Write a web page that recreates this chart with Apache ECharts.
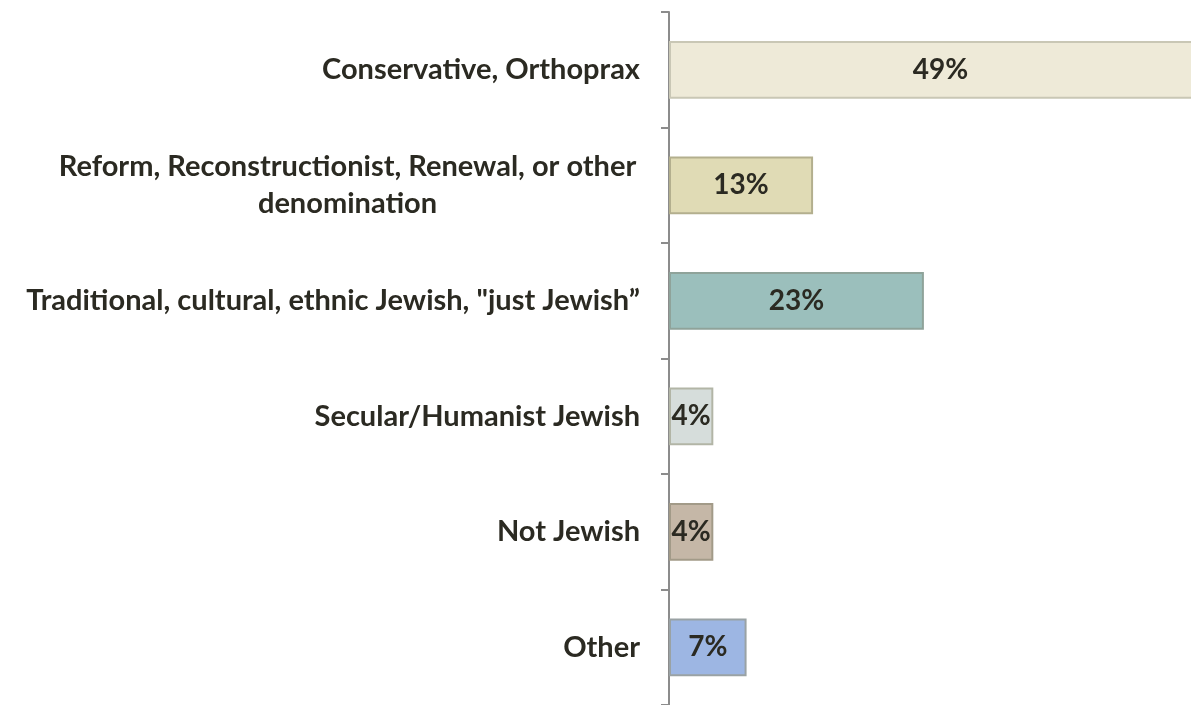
<!DOCTYPE html>
<html>
<head>
<meta charset="utf-8">
<script src="https://cdn.jsdelivr.net/npm/echarts@6/dist/echarts.min.js"></script>
<style>
    html, body { margin: 0; padding: 0; background: #fff; }
    #chart { width: 1191px; height: 705px; }
</style>
</head>
<body>
<div id="chart"></div>
<script>
// categories, top to bottom
var categories = [
    'Conservative, Orthoprax',
    'Reform, Reconstructionist, Renewal, or other\ndenomination',
    'Traditional, cultural, ethnic Jewish, "just Jewish\u201d',
    'Secular/Humanist Jewish',
    'Not Jewish',
    'Other'
];
var values = [49, 13, 23, 4, 4, 7];
var fills = ['#eeead8', '#e0dbb5', '#9bbfbc', '#d6dddb', '#c5b7a7', '#9db6e3'];
var borders = ['#c9c7b5', '#b3af8e', '#8fa39a', '#b2b5a6', '#a29a88', '#9aa2a4'];

var myChart = echarts.init(document.getElementById('chart'));
var font = 'Lato, "Open Sans", sans-serif';

myChart.setOption({
    animation: false,
    grid: {
        left: 669,
        top: 12,
        right: 0,
        bottom: 0,
        containLabel: false
    },
    xAxis: {
        type: 'value',
        min: 0,
        max: 47.1,   // 49% bar runs past the right edge, as in the original
        show: false
    },
    yAxis: {
        type: 'category',
        inverse: true,
        data: categories,
        axisLine: {
            lineStyle: {
                color: '#8c8c8c',
                width: 2
            }
        },
        axisTick: {
            show: true,
            length: 8,
            lineStyle: {
                color: '#8c8c8c',
                width: 2
            }
        },
        axisLabel: {
            margin: 29,
            color: '#2b2a22',
            fontFamily: font,
            fontWeight: 'bold',
            fontSize: 29,
            lineHeight: 37,
            formatter: function (v) {
                if (v.indexOf('\n') >= 0) {
                    return v.split('\n').map(function (s) {
                        return '{c|' + s + '}';
                    }).join('\n');
                }
                return v;
            },
            rich: {
                c: {
                    width: 585,
                    align: 'center',
                    color: '#2b2a22',
                    fontFamily: font,
                    fontWeight: 'bold',
                    fontSize: 29,
                    lineHeight: 37
                }
            }
        }
    },
    series: [{
        type: 'bar',
        barWidth: '50%',
        clip: false,
        data: values.map(function (v, i) {
            return {
                value: v,
                itemStyle: {
                    color: fills[i],
                    borderColor: borders[i],
                    borderWidth: 2
                }
            };
        }),
        label: {
            show: true,
            position: 'inside',
            formatter: '{c}%',
            color: '#2b2a22',
            fontFamily: font,
            fontWeight: 'bold',
            fontSize: 28
        }
    }]
});
</script>
</body>
</html>
